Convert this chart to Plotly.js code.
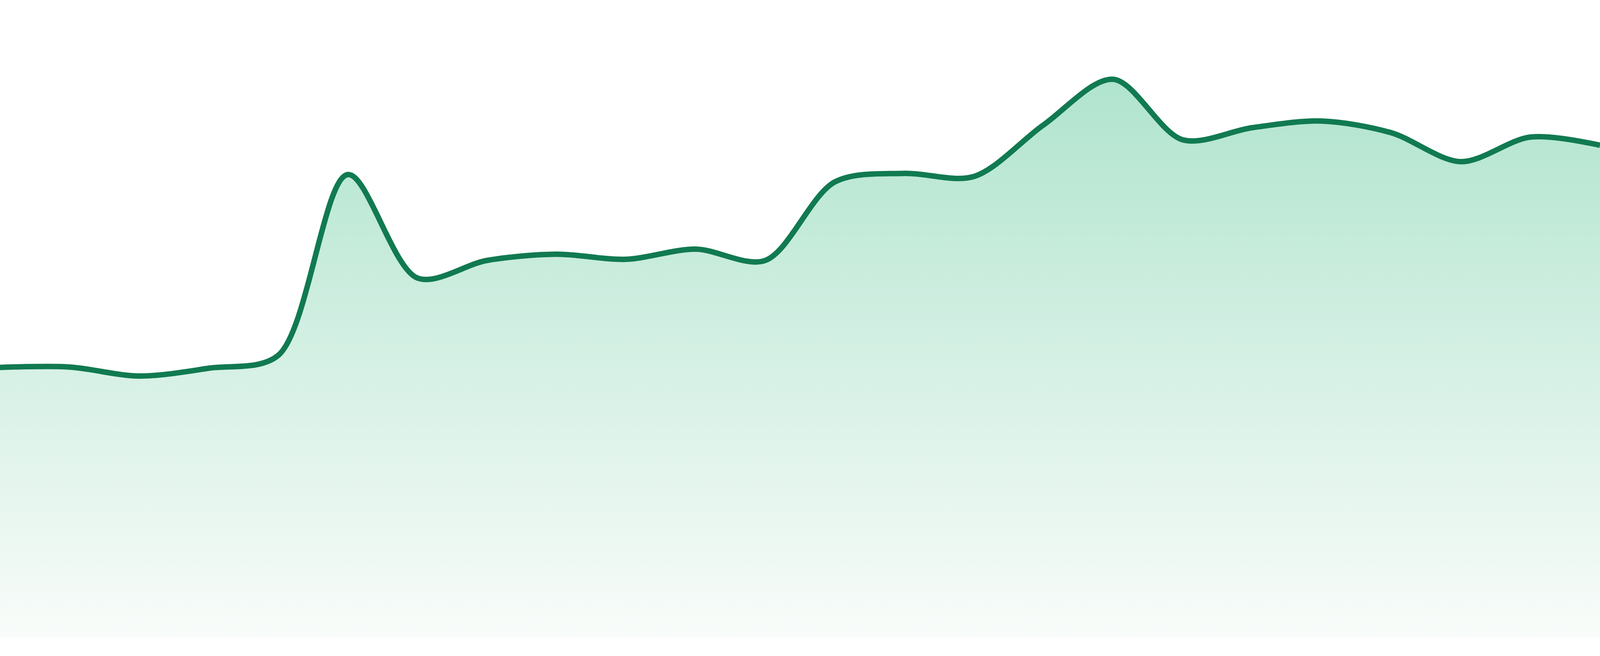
<!DOCTYPE html>
<html>
<head>
<meta charset="utf-8">
<script src="https://cdn.plot.ly/plotly-3.0.1.min.js"></script>
<style>
  html, body { margin: 0; padding: 0; background: #ffffff; overflow: hidden; }
  #chart { width: 100vw; height: 100vh; }
</style>
</head>
<body>
<div id="chart"></div>
<script>
// Data (24 evenly spaced points, arbitrary units)
const steps = [0,1,2,3,4,5,6,7,8,9,10,11,12,13,14,15,16,17,18,19,20,21,22,23];
const values = [691, 692, 669, 689, 722, 1185, 920, 965, 981, 968, 994, 965,
                1166, 1188, 1180, 1312, 1429, 1274, 1305, 1322, 1292, 1218, 1281, 1260];

const lineColor = '#117a51';

// Fill the whole viewport (the reference is 4800x1680)
const W = window.innerWidth || 4800;
const H = window.innerHeight || 1680;
const ky = H / 1680;

const trace = {
  x: steps,
  y: values,
  type: 'scatter',
  mode: 'lines',
  line: { color: lineColor, width: 14 * ky, shape: 'spline', smoothing: 0.9 },
  fill: 'tozeroy',
  fillgradient: {
    type: 'vertical',
    colorscale: [
      [0, 'rgb(249,252,250)'],
      [1, 'rgb(176,228,206)']
    ]
  },
  hoverinfo: 'skip'
};

const layout = {
  width: W,
  height: H,
  margin: { l: 0, r: 0, t: 0, b: Math.round(48 * ky), pad: 0 },
  paper_bgcolor: '#ffffff',
  plot_bgcolor: '#ffffff',
  showlegend: false,
  xaxis: { range: [0, 23], visible: false, showgrid: false, zeroline: false, fixedrange: true },
  yaxis: { range: [0, 1632], visible: false, showgrid: false, zeroline: false, fixedrange: true }
};

Plotly.newPlot('chart', [trace], layout, { displayModeBar: false, staticPlot: true });
</script>
</body>
</html>
